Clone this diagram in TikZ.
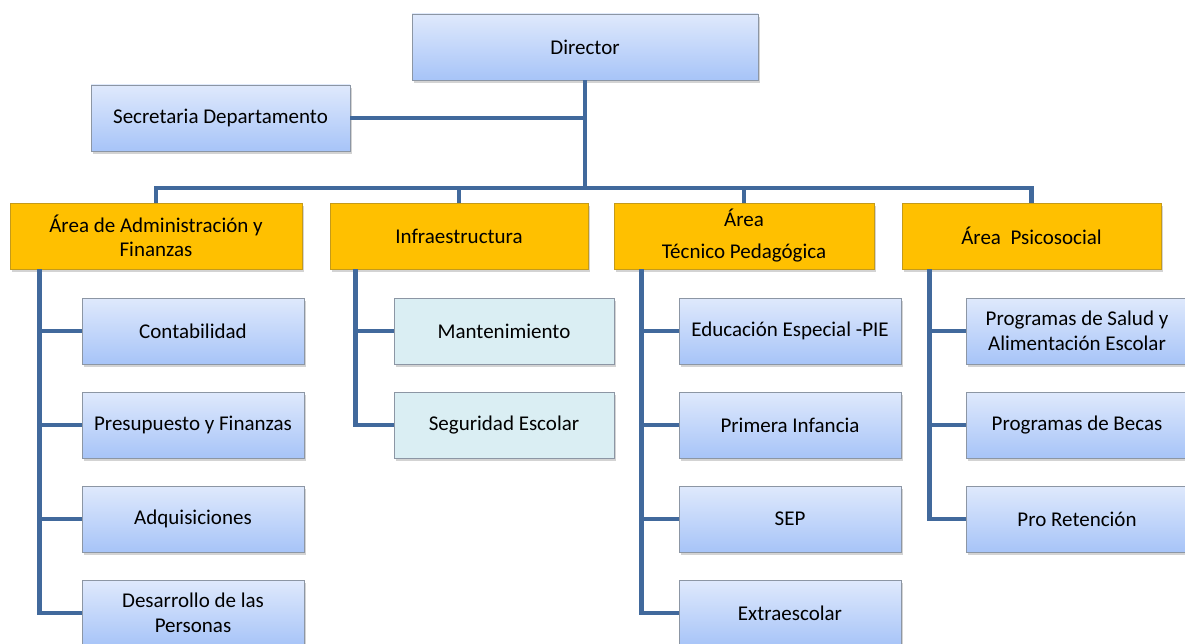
\documentclass[tikz,border=0pt]{standalone}
\usepackage{fontspec}
\setmainfont{Carlito}
\usetikzlibrary{shadows}
\definecolor{conn}{HTML}{41699C}
\definecolor{btop}{HTML}{DFE9FC}
\definecolor{bbot}{HTML}{A7C4F8}
\definecolor{bdr}{HTML}{8C96A4}
\definecolor{org}{HTML}{FFC000}
\definecolor{orgb}{HTML}{C49A1A}
\definecolor{cyanbox}{HTML}{DAEEF3}
\tikzset{
  base/.style={rectangle, draw=bdr, line width=0.8pt, align=center, inner sep=2pt,
    font=\fontsize{21}{24.5}\selectfont, text=black,
    drop shadow={opacity=0.35, shadow xshift=2pt, shadow yshift=-3pt}},
  bluebox/.style={base, top color=btop, bottom color=bbot},
  orangebox/.style={base, fill=org, draw=orgb},
  cyanbx/.style={base, fill=cyanbox},
  link/.style={draw=conn, line width=4.5pt},
}
\begin{document}
\begin{tikzpicture}[x=1pt,y=-1pt]
\useasboundingbox (0,0) rectangle (1185,644);
\clip (0,0) rectangle (1185,644);
% top
\node[bluebox, minimum width=346pt, minimum height=66pt] (dir) at (585,47) {Director};
\node[bluebox, minimum width=259pt, minimum height=66pt] (sec) at (220.5,118) {Secretaria Departamento};
% areas
\node[orangebox, minimum width=292pt, minimum height=66pt] (a1) at (156,236) {Área de Administración y\\Finanzas};
\node[orangebox, minimum width=258pt, minimum height=66pt] (a2) at (459,236) {Infraestructura};
\node[orangebox, minimum width=260pt, minimum height=66pt, font=\fontsize{21}{32}\selectfont] (a3) at (744,236) {Área\\Técnico Pedagógica};
\node[orangebox, minimum width=259pt, minimum height=66pt] (a4) at (1031.5,236) {Área\ \ Psicosocial};
% admin children
\node[bluebox, minimum width=222pt, minimum height=66pt] (c11) at (193,331) {Contabilidad};
\node[bluebox, minimum width=222pt, minimum height=66pt] (c12) at (193,425) {Presupuesto y Finanzas};
\node[bluebox, minimum width=222pt, minimum height=66pt] (c13) at (193,519) {Adquisiciones};
\node[bluebox, minimum width=222pt, minimum height=66pt] (c14) at (193,613) {Desarrollo de las\\Personas};
% infra children
\node[cyanbx, minimum width=220pt, minimum height=66pt] (c21) at (504,331) {Mantenimiento};
\node[cyanbx, minimum width=220pt, minimum height=66pt] (c22) at (504,425) {Seguridad Escolar};
% tecnico children
\node[bluebox, minimum width=222pt, minimum height=66pt] (c31) at (790,331) {Educación Especial -PIE};
\node[bluebox, minimum width=222pt, minimum height=66pt] (c32) at (790,425) {Primera Infancia};
\node[bluebox, minimum width=222pt, minimum height=66pt] (c33) at (790,519) {SEP};
\node[bluebox, minimum width=222pt, minimum height=66pt] (c34) at (790,613) {Extraescolar};
% psico children
\node[bluebox, minimum width=222pt, minimum height=66pt] (c41) at (1077,331) {Programas de Salud y\\Alimentación Escolar};
\node[bluebox, minimum width=222pt, minimum height=66pt] (c42) at (1077,425) {Programas de Becas};
\node[bluebox, minimum width=222pt, minimum height=66pt] (c43) at (1077,519) {Pro Retención};
% connectors
\coordinate (bus) at (585,188);
\draw[link] (dir.south) -- (bus);
\draw[link] (sec.east) -- (sec.east -| dir.south);
\draw[link] (a1.north) |- (bus) -| (a4.north);
\draw[link] (a2.north) -- (a2.north |- bus);
\draw[link] (a3.north) -- (a3.north |- bus);
\coordinate (s1) at ([xshift=30pt]a1.south west);
\coordinate (s2) at ([xshift=26pt]a2.south west);
\coordinate (s3) at ([xshift=28pt]a3.south west);
\coordinate (s4) at ([xshift=28pt]a4.south west);
\draw[link] (s1) |- (c14.west);
\draw[link] (s1 |- c11.west) -- (c11.west);
\draw[link] (s1 |- c12.west) -- (c12.west);
\draw[link] (s1 |- c13.west) -- (c13.west);
\draw[link] (s2) |- (c22.west);
\draw[link] (s2 |- c21.west) -- (c21.west);
\draw[link] (s3) |- (c34.west);
\draw[link] (s3 |- c31.west) -- (c31.west);
\draw[link] (s3 |- c32.west) -- (c32.west);
\draw[link] (s3 |- c33.west) -- (c33.west);
\draw[link] (s4) |- (c43.west);
\draw[link] (s4 |- c41.west) -- (c41.west);
\draw[link] (s4 |- c42.west) -- (c42.west);
\end{tikzpicture}
\end{document}
